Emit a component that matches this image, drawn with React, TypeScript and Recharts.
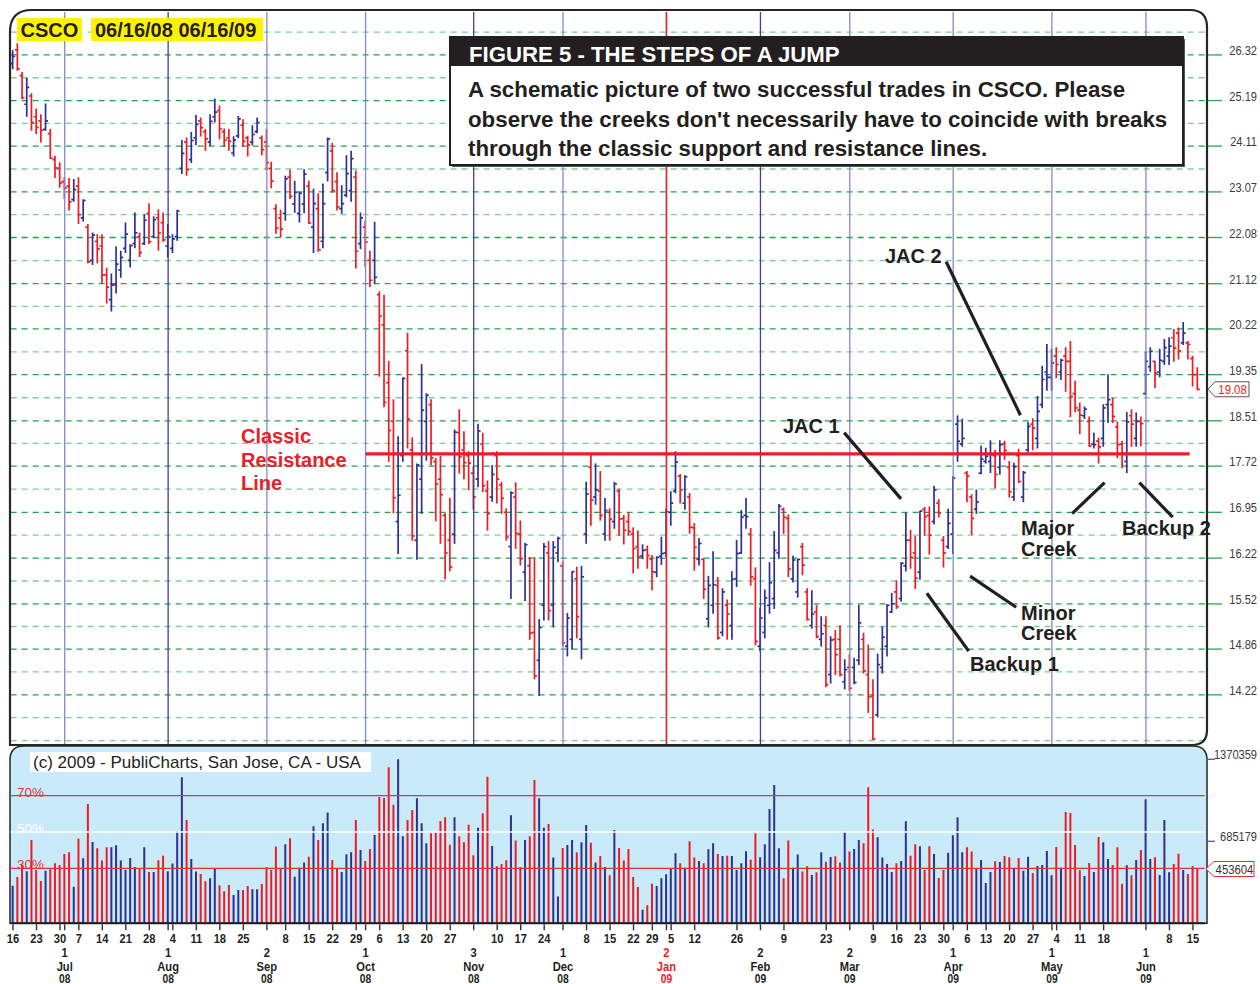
import React from "react";
import {
  ComposedChart,
  Bar,
  XAxis,
  YAxis,
  CartesianGrid,
  ReferenceLine,
  Cell,
} from "recharts";

// CSCO daily bars 06/16/08 - 06/16/09, one entry per trading day
const opens = [
  26.1, 26.45, 25.8, 25.1, 25.3, 24.8, 24.7, 24.5, 24.4, 23.8,
  23.6, 23.3, 23.2, 22.9, 23.2, 22.5, 22.3, 21.6, 22.0, 21.9,
  21.3, 20.8, 21.1, 21.4, 21.85, 21.6, 21.95, 22.1, 21.95, 22.6,
  22.1, 22.5, 22.4, 21.9, 21.85, 22.1, 23.6, 24.2, 23.8, 24.3,
  24.7, 24.45, 24.2, 24.8, 24.95, 24.45, 24.3, 23.95, 24.35, 24.6,
  24.3, 24.2, 24.45, 24.3, 24.2, 23.6, 22.7, 22.5, 22.6, 23.4,
  22.8, 22.6, 22.8, 23.2, 22.3, 22.7, 22.0, 23.5, 24.0, 23.3,
  22.7, 23.0, 23.1, 23.4, 21.95, 22.3, 21.6, 21.6, 20.9, 20.3,
  19.2, 18.5, 16.8, 17.9, 19.8, 18.0, 16.5, 17.5, 18.5, 18.8,
  17.8, 17.5, 16.9, 16.5, 16.6, 18.3, 18.0, 17.9, 17.6, 17.5,
  18.1, 17.3, 17.2, 17.9, 17.4, 16.95, 16.4, 17.2, 16.6, 16.0,
  16.1, 15.1, 14.7, 15.5, 16.3, 15.5, 16.3, 16.1, 14.9, 15.0,
  15.9, 15.0, 16.6, 17.7, 17.2, 17.3, 16.6, 16.95, 16.8, 17.3,
  16.85, 16.8, 16.6, 16.4, 16.25, 16.35, 16.2, 16.0, 16.25, 16.3,
  16.95, 17.3, 17.55, 17.1, 17.2, 16.7, 16.2, 16.2, 15.3, 15.5,
  15.8, 15.1, 15.5, 15.2, 15.9, 16.3, 16.9, 16.6, 15.9, 14.9,
  15.1, 15.5, 15.6, 16.3, 17.0, 16.85, 15.9, 15.7, 16.4, 15.7,
  15.2, 15.4, 15.0, 15.2, 14.5, 15.0, 15.0, 14.4, 14.6, 14.6,
  14.7, 15.0, 14.5, 14.2, 13.95, 14.6, 14.9, 15.4, 15.7, 15.6,
  16.1, 16.5, 16.3, 16.0, 17.0, 16.9, 16.8, 17.1, 16.5, 16.4,
  16.6, 18.45, 18.1, 17.6, 17.2, 17.0, 17.6, 17.8, 17.8, 17.9,
  17.7, 18.1, 17.7, 17.2, 17.9, 17.2, 18.0, 18.45, 18.2, 18.8,
  19.4, 19.3, 19.7, 19.4, 19.7, 19.6, 19.0, 18.7, 18.6, 18.5,
  18.1, 18.15, 18.2, 18.8, 18.8, 18.4, 18.1, 17.8, 18.6, 18.2,
  18.5, 19.0, 19.5, 19.6, 19.4, 19.6, 19.7, 20.05, 20.14, 19.95,
  19.95, 19.65, 19.35,
];

const highs = [
  26.43, 26.61, 25.88, 25.74, 25.36, 24.99, 24.85, 25.11, 24.5, 23.88,
  23.73, 23.39, 23.37, 23.35, 23.39, 22.9, 22.36, 22.18, 22.14, 22.14,
  21.44, 21.32, 21.88, 21.79, 22.39, 21.93, 22.61, 22.18, 22.57, 22.81,
  22.53, 22.68, 22.61, 22.36, 22.14, 22.67, 24.24, 24.3, 24.43, 24.83,
  24.77, 24.5, 24.85, 25.23, 25.06, 24.51, 24.5, 24.33, 24.81, 24.73,
  24.34, 24.59, 24.77, 24.35, 24.5, 23.74, 22.79, 22.67, 23.42, 23.56,
  23.31, 23.06, 23.57, 23.31, 23.13, 23.03, 23.25, 24.3, 24.18, 23.5,
  23.21, 23.89, 23.99, 23.54, 22.61, 22.43, 21.79, 22.41, 20.96, 20.89,
  19.6, 18.89, 18.23, 19.29, 20.14, 18.21, 17.76, 19.54, 19.0, 18.89,
  17.85, 17.89, 16.93, 17.18, 18.35, 18.71, 18.32, 17.97, 17.7, 18.45,
  18.29, 17.47, 17.73, 17.97, 17.45, 17.01, 17.29, 17.44, 16.81, 16.45,
  16.23, 16.23, 15.29, 16.45, 16.48, 16.48, 16.55, 16.16, 15.38, 16.01,
  16.08, 16.09, 17.45, 17.91, 17.76, 17.63, 17.18, 17.01, 17.45, 17.33,
  16.9, 16.94, 16.7, 16.65, 16.43, 16.41, 16.26, 16.24, 16.55, 17.01,
  17.29, 17.97, 17.58, 17.56, 17.26, 16.77, 16.53, 16.21, 15.94, 16.32,
  15.92, 15.75, 15.58, 16.01, 16.5, 16.98, 17.18, 16.69, 16.07, 15.46,
  15.73, 16.15, 16.64, 17.08, 17.02, 16.91, 16.25, 16.2, 16.45, 15.75,
  15.72, 15.5, 15.33, 15.33, 15.04, 15.13, 15.2, 14.71, 14.78, 14.73,
  15.5, 15.09, 14.92, 14.43, 14.79, 15.18, 15.51, 15.68, 15.87, 16.15,
  16.94, 16.66, 16.56, 16.97, 17.03, 17.04, 17.38, 17.16, 16.56, 17.0,
  17.54, 18.6, 18.54, 17.63, 17.24, 17.32, 18.07, 18.03, 18.16, 17.99,
  18.16, 18.15, 17.8, 17.77, 18.01, 17.63, 18.48, 18.55, 18.95, 19.51,
  19.92, 19.83, 19.86, 19.64, 19.86, 19.98, 19.23, 18.83, 18.76, 18.58,
  18.29, 18.21, 18.8, 19.35, 18.92, 18.49, 18.15, 18.66, 18.71, 18.65,
  18.58, 19.77, 19.86, 19.6, 19.83, 20.02, 20.05, 20.21, 20.24, 20.35,
  19.98, 19.7, 19.48,
];

const lows = [
  25.97, 25.93, 25.23, 24.81, 24.48, 24.4, 24.2, 24.48, 23.82, 23.39,
  23.17, 22.92, 22.67, 22.86, 22.38, 22.43, 21.55, 21.51, 21.55, 21.13,
  20.73, 20.57, 20.93, 21.25, 21.76, 21.46, 21.86, 21.68, 21.93, 21.95,
  22.07, 21.81, 22.0, 21.67, 21.76, 22.02, 23.48, 23.44, 23.73, 24.14,
  24.34, 24.01, 24.12, 24.67, 24.28, 24.1, 24.01, 23.88, 24.3, 24.1,
  23.88, 24.14, 24.42, 23.91, 23.57, 23.16, 22.17, 22.09, 22.45, 22.92,
  22.62, 22.41, 22.61, 22.38, 21.76, 21.79, 21.86, 23.31, 23.06, 22.67,
  22.6, 22.96, 22.86, 21.44, 21.84, 21.47, 21.06, 21.13, 19.32, 18.76,
  17.8, 16.94, 16.29, 17.8, 18.03, 16.5, 16.2, 16.93, 17.82, 17.74,
  16.81, 16.45, 15.9, 16.02, 16.45, 17.6, 17.5, 17.32, 17.0, 17.37,
  17.29, 16.66, 17.13, 17.1, 16.93, 16.5, 15.6, 16.37, 16.11, 15.57,
  15.0, 14.44, 14.21, 15.28, 15.28, 15.18, 16.16, 14.91, 14.76, 14.86,
  15.02, 14.72, 16.45, 16.74, 17.08, 16.82, 16.5, 16.5, 16.69, 16.58,
  16.44, 16.58, 15.99, 16.06, 16.21, 16.06, 15.73, 15.93, 16.12, 16.24,
  16.74, 17.27, 17.1, 17.0, 16.61, 16.03, 16.11, 15.6, 15.18, 15.38,
  15.0, 15.05, 15.0, 15.0, 15.78, 16.29, 16.69, 15.8, 14.92, 14.83,
  15.02, 15.38, 15.45, 16.21, 16.61, 15.93, 15.85, 15.62, 15.96, 15.28,
  15.16, 15.02, 14.9, 14.33, 14.38, 14.5, 14.48, 14.3, 14.28, 14.37,
  14.64, 14.52, 13.98, 13.62, 13.92, 14.52, 14.76, 15.39, 15.45, 15.56,
  16.02, 16.06, 15.75, 15.89, 16.58, 16.28, 16.76, 16.87, 16.08, 16.37,
  16.29, 17.8, 18.06, 17.12, 16.59, 16.93, 17.59, 17.77, 17.61, 17.35,
  17.58, 17.83, 17.2, 17.14, 17.44, 17.12, 17.97, 18.0, 18.03, 18.74,
  19.06, 19.06, 19.29, 19.26, 19.04, 18.58, 18.67, 18.28, 18.55, 18.06,
  18.03, 17.77, 18.06, 18.48, 18.48, 17.86, 17.69, 17.61, 18.06, 18.06,
  18.07, 18.98, 19.41, 19.11, 19.31, 19.54, 19.54, 19.6, 19.64, 19.92,
  19.64, 19.14, 19.07,
];

const closes = [
  26.28, 25.97, 25.26, 25.51, 24.66, 24.55, 24.48, 24.7, 23.83, 23.61,
  23.27, 23.16, 22.85, 23.12, 22.57, 22.88, 21.57, 22.13, 21.84, 21.3,
  21.05, 21.09, 21.52, 21.66, 22.15, 21.91, 22.18, 21.76, 22.45, 21.99,
  22.46, 22.18, 22.03, 22.1, 22.05, 22.65, 23.94, 23.57, 24.24, 24.62,
  24.54, 24.28, 24.69, 24.91, 24.51, 24.25, 24.22, 24.25, 24.75, 24.22,
  24.14, 24.38, 24.66, 24.03, 23.73, 23.31, 22.28, 22.26, 23.36, 22.97,
  23.06, 23.04, 23.47, 22.39, 22.81, 21.82, 22.81, 24.28, 23.1, 22.74,
  22.81, 23.48, 23.82, 21.79, 22.5, 21.98, 21.19, 21.25, 20.47, 18.84,
  18.34, 17.19, 17.23, 19.28, 18.54, 16.57, 17.74, 18.7, 18.97, 17.86,
  17.42, 17.24, 16.3, 16.08, 18.31, 17.88, 17.78, 17.77, 17.2, 18.33,
  17.39, 16.93, 17.58, 17.5, 17.18, 16.55, 17.27, 16.61, 16.21, 16.43,
  15.09, 14.48, 15.17, 16.4, 15.42, 16.39, 16.53, 14.95, 15.31, 16.01,
  15.33, 15.93, 17.25, 17.15, 17.32, 16.9, 16.98, 16.84, 17.42, 16.84,
  16.66, 16.64, 16.37, 16.24, 16.34, 16.26, 16.01, 16.23, 16.29, 16.96,
  17.1, 17.79, 17.32, 17.54, 16.71, 16.39, 16.45, 15.74, 15.8, 15.81,
  15.02, 15.7, 15.37, 15.89, 16.29, 16.87, 16.88, 15.93, 14.97, 15.31,
  15.61, 15.84, 16.34, 17.05, 16.87, 16.05, 16.19, 16.2, 16.11, 15.29,
  15.37, 15.04, 15.08, 14.36, 14.99, 14.78, 14.5, 14.57, 14.31, 14.39,
  15.24, 14.55, 14.19, 13.63, 14.64, 15.03, 15.5, 15.52, 15.48, 16.14,
  16.5, 16.23, 15.91, 16.97, 16.88, 16.58, 17.32, 16.94, 16.3, 16.77,
  17.52, 18.15, 18.2, 17.55, 16.85, 17.12, 17.84, 17.89, 17.92, 17.58,
  18.09, 17.99, 17.29, 17.71, 17.46, 17.61, 18.41, 18.38, 18.68, 19.26,
  19.3, 19.57, 19.54, 19.62, 19.6, 18.95, 18.74, 18.61, 18.72, 18.07,
  18.09, 18.05, 18.74, 18.89, 18.59, 18.09, 17.95, 18.49, 18.45, 18.5,
  18.46, 19.6, 19.79, 19.38, 19.62, 19.86, 19.89, 19.85, 19.8, 20.14,
  19.92, 19.35, 19.08,
];

const volumes = [
  314700, 387000, 487000, 434000, 696000, 446000, 354000, 440000, 451000, 501000,
  487000, 579000, 593000, 306000, 707000, 543000, 997000, 680000, 627000, 524000,
  635000, 635000, 652000, 524000, 446000, 546000, 468000, 460000, 635000, 429000,
  429000, 526000, 565000, 434000, 499000, 771000, 1220000, 863000, 538000, 432000,
  412000, 351000, 376000, 454000, 317000, 267000, 320000, 237000, 279000, 279000,
  312000, 284000, 284000, 329000, 468000, 446000, 641000, 460000, 660000, 710000,
  390000, 465000, 507000, 557000, 810000, 696000, 836000, 925000, 529000, 462000,
  429000, 577000, 593000, 863000, 613000, 521000, 621000, 738000, 1056000, 1047000,
  1303000, 991000, 1370359, 727000, 863000, 947000, 1044000, 836000, 668000, 752000,
  758000, 855000, 886000, 657000, 886000, 727000, 677000, 824000, 568000, 799000,
  919000, 1225000, 646000, 476000, 496000, 526000, 902000, 691000, 471000, 696000,
  727000, 1198000, 1044000, 799000, 830000, 549000, 223000, 629000, 654000, 696000,
  593000, 677000, 822000, 674000, 507000, 563000, 471000, 401000, 780000, 629000,
  524000, 621000, 387000, 304000, 114000, 150000, 331000, 312000, 376000, 409000,
  457000, 585000, 501000, 465000, 685000, 549000, 521000, 501000, 618000, 668000,
  579000, 563000, 565000, 563000, 446000, 501000, 602000, 532000, 752000, 551000,
  660000, 955000, 1156000, 627000, 376000, 691000, 465000, 574000, 432000, 476000,
  404000, 426000, 593000, 515000, 554000, 560000, 507000, 766000, 599000, 621000,
  696000, 668000, 1136000, 783000, 719000, 549000, 496000, 429000, 501000, 521000,
  852000, 565000, 660000, 643000, 446000, 643000, 579000, 379000, 446000, 590000,
  735000, 886000, 593000, 635000, 599000, 454000, 529000, 337000, 429000, 518000,
  512000, 563000, 551000, 457000, 546000, 440000, 557000, 421000, 479000, 487000,
  604000, 401000, 638000, 465000, 930000, 922000, 654000, 443000, 395000, 504000,
  429000, 721000, 677000, 538000, 487000, 635000, 331000, 485000, 401000, 529000,
  613000, 1036000, 538000, 551000, 404000, 863000, 426000, 496000, 582000, 446000,
  412000, 479000, 453604,
];

// u = up day (blue), d = down day (red)
const direction = [
  "uddudddudd", "dddudududd", "duuuuuudud", "udduuuuduu", "dduuddduud",
  "duudddddud", "uuududuudd", "uuududdudd", "dduudduuud", "dddduddddu",
  "dduddduddu", "dduuduuduu", "duudududud", "ddddudduuu", "uududduduu",
  "duduuuuddu", "uuuudduudd", "udududdudu", "uddduuuudu", "uddudduddu",
  "uuudduuuud", "udduduuduu", "uududdddud", "uduudddudu", "duuduuuddu",
  "ddd",
].join("");

const priceLevels = [
  26.32, 25.19, 24.11, 23.07, 22.08, 21.12, 20.22, 19.35, 18.51, 17.72,
  16.95, 16.22, 15.52, 14.86, 14.22,
];

const volumeLevels = [1370359, 685179];

// weekly labels: [bar index, label]
const weekTicks: [number, string][] = [
  [0, "16"], [5, "23"], [10, "30"], [14, "7"], [19, "14"], [24, "21"], [29, "28"],
  [34, "4"], [39, "11"], [44, "18"], [49, "25"], [58, "8"], [63, "15"], [68, "22"],
  [73, "29"], [78, "6"], [83, "13"], [88, "20"], [93, "27"], [103, "10"], [108, "17"],
  [113, "24"], [122, "8"], [127, "15"], [132, "22"], [136, "29"], [140, "5"],
  [145, "12"], [154, "26"], [164, "9"], [173, "23"], [183, "9"], [188, "16"],
  [193, "23"], [198, "30"], [203, "6"], [207, "13"], [212, "20"], [217, "27"],
  [222, "4"], [227, "11"], [232, "18"], [246, "8"], [251, "15"],
];

// month starts: [bar index, day, month, year]
const monthTicks: [number, string, string, string][] = [
  [11, "1", "Jul", "08"], [33, "1", "Aug", "08"], [54, "2", "Sep", "08"],
  [75, "1", "Oct", "08"], [98, "3", "Nov", "08"], [117, "1", "Dec", "08"],
  [139, "2", "Jan", "09"], [159, "2", "Feb", "09"], [178, "2", "Mar", "09"],
  [200, "1", "Apr", "09"], [221, "1", "May", "09"], [241, "1", "Jun", "09"],
];

const resistance = { from: 75, to: 250.3, price: 17.93 };

const pointers: { from: [number, number]; to: [number, number] }[] = [
  { from: [198.5, 21.57], to: [214.3, 18.61] }, // JAC 2
  { from: [176.8, 18.3], to: [188.9, 17.17] }, // JAC 1
  { from: [225.3, 16.93], to: [232.2, 17.44] }, // Major Creek
  { from: [239.6, 17.44], to: [246.7, 16.87] }, // Backup 2
  { from: [203.6, 15.94], to: [213.4, 15.47] }, // Minor Creek
  { from: [194.4, 15.68], to: [203.3, 14.83] }, // Backup 1
];

const volBands = [
  { label: "70%", value: 1067000, color: "#e2323c" },
  { label: "50%", value: 763000, color: "#ffffff" },
  { label: "30%", value: 459000, color: "#e2323c" },
];

const BLUE = "#2e3192";
const RED = "#ed1c24";
const INK = "#231f20";
const FONT = '"Liberation Sans", Arial, sans-serif';

const LEFT = 10.65;
const AXIS_W = 55.3;
const PLOT_RIGHT = 1260 - AXIS_W;
const X_DOMAIN: [number, number] = [-0.5, 253.5];
const PRICE_DOMAIN: [number, number] = [13.55, 27.43];
const VOL_DOMAIN: [number, number] = [0, 1481500];
const VOL_TOP = 740;
const VOL_PLOT_BOTTOM = 6 + 177.3;

const rows = closes.map((c, i) => ({
  i,
  range: [lows[i], highs[i]],
  open: opens[i],
  high: highs[i],
  low: lows[i],
  close: c,
  vol: volumes[i],
  up: direction[i] === "u",
}));

const last = priceLevels.length - 1;
const minorLevels = [
  priceLevels[0] * Math.sqrt(priceLevels[0] / priceLevels[1]),
  ...priceLevels.slice(1).map((p, k) => Math.sqrt(p * priceLevels[k])),
  priceLevels[last] * Math.sqrt(priceLevels[last] / priceLevels[last - 1]),
  (priceLevels[last] * priceLevels[last]) / priceLevels[last - 1],
];

const weekMap = new Map(weekTicks.map((t) => [t[0], t[1]]));
const monthMap = new Map(monthTicks.map((t) => [t[0], t]));
const timeTicks = [...weekTicks.map((t) => t[0]), ...monthTicks.map((t) => t[0])].sort((a, b) => a - b);
const darkMonths = ["Aug", "Nov", "Feb"];

// condensed-looking label: regular font squeezed horizontally
function Narrow(props: { x: number; y: number; anchor?: "start" | "middle" | "end"; sx?: number; children: React.ReactNode; [k: string]: any }) {
  const { x, y, anchor = "middle", sx = 0.84, children, ...rest } = props;
  return (
    <text transform={`translate(${x},${y}) scale(${sx},1)`} textAnchor={anchor} fontFamily={FONT} {...rest}>
      {children}
    </text>
  );
}

function OhlcShape(props: any) {
  const { x, y, width, height, payload } = props;
  if (!payload || x == null || y == null) return <g />;
  const top = Math.min(y, y + height);
  const bottom = Math.max(y, y + height);
  const lh = Math.log(payload.high);
  const ll = Math.log(payload.low);
  const at = (p: number) => (lh === ll ? top : top + ((lh - Math.log(p)) / (lh - ll)) * (bottom - top));
  const cx = x + width / 2;
  const yo = at(payload.open);
  const yc = at(payload.close);
  return (
    <g stroke={payload.up ? BLUE : RED} strokeWidth={1.7} fill="none">
      <line x1={cx} x2={cx} y1={top - 0.4} y2={bottom + 0.4} />
      <line x1={cx - 2.5} x2={cx} y1={yo} y2={yo} />
      <line x1={cx} x2={cx + 2.5} y1={yc} y2={yc} />
    </g>
  );
}

function PriceTick(props: any) {
  const { y, payload } = props;
  return (
    <g>
      <line x1={PLOT_RIGHT + 2} x2={1222} y1={y} y2={y} stroke="#2aa84f" strokeWidth={1.3} />
      <Narrow x={1257} y={y} anchor="end" sx={0.82} fontSize={13.5} fill="#3a3a3a">
        {payload.value.toFixed(2)}
      </Narrow>
    </g>
  );
}

function VolTick(props: any) {
  const { y, payload } = props;
  return (
    <g>
      <line x1={PLOT_RIGHT + 2} x2={1215} y1={y} y2={y} stroke="#5558a8" strokeWidth={1.3} />
      <Narrow x={1257} y={y} anchor="end" sx={0.82} fontSize={13.5} fill="#3a3a3a">
        {payload.value}
      </Narrow>
    </g>
  );
}

function TimeTick(props: any) {
  const { x, payload } = props;
  const v = payload.value;
  const wk = weekMap.get(v);
  const mo = monthMap.get(v);
  const b = VOL_PLOT_BOTTOM;
  const col = mo && mo[2] === "Jan" ? RED : INK;
  return (
    <g fontWeight="bold" fontSize={13}>
      <line x1={x} x2={x} y1={b + 1} y2={b + 7} stroke="#333" strokeWidth={1.4} />
      {wk && (
        <Narrow x={x} y={b + 20} sx={0.86} fill={INK}>
          {wk}
        </Narrow>
      )}
      {mo && (
        <>
          <Narrow x={x} y={b + 34} sx={0.86} fill={col}>{mo[1]}</Narrow>
          <Narrow x={x} y={b + 47.5} sx={0.86} fill={col}>{mo[2]}</Narrow>
          <Narrow x={x} y={b + 60} sx={0.86} fill={col} fontSize={12}>{mo[3]}</Narrow>
        </>
      )}
    </g>
  );
}

function PriceTag(props: any) {
  const vb = props.viewBox || {};
  const y = vb.y;
  const x0 = vb.x + vb.width + 3.3;
  if (y == null) return null;
  return (
    <g>
      <path
        d={`M${x0},${y} L${x0 + 7},${y - 7.5} L${x0 + 41},${y - 7.5} L${x0 + 41},${y + 7.5} L${x0 + 7},${y + 7.5} Z`}
        fill="#fff"
        stroke="#555"
        strokeWidth={1}
      />
      <Narrow x={x0 + 24.5} y={y + 5} sx={0.84} fill={RED} fontSize={13.5}>
        {closes[closes.length - 1].toFixed(2)}
      </Narrow>
    </g>
  );
}

function VolTag(props: any) {
  const vb = props.viewBox || {};
  const y = vb.y;
  const x0 = vb.x + vb.width + 1.3;
  if (y == null) return null;
  return (
    <g>
      <path
        d={`M${x0},${y} L${x0 + 8},${y - 7.5} L${x0 + 48},${y - 7.5} L${x0 + 48},${y + 7.5} L${x0 + 8},${y + 7.5} Z`}
        fill="#fff"
        stroke="#e2323c"
        strokeWidth={1}
      />
      <Narrow x={x0 + 28.5} y={y + 5} sx={0.84} fill="#333" fontSize={13.5}>
        {volumes[volumes.length - 1]}
      </Narrow>
    </g>
  );
}

function BandLabel(props: any) {
  const vb = props.viewBox || {};
  if (vb.y == null) return null;
  return (
    <text x={17} y={vb.y + 1} fontSize={13.5} fill={props.color} fontFamily={FONT}>
      {props.text}
    </text>
  );
}

const txt = { fontFamily: FONT, fontWeight: "bold" as const, fill: INK };

export default function App() {
  return (
    <div style={{ position: "absolute", left: 0, top: 0, width: 1260, height: 984, background: "#fff", fontFamily: FONT }}>
      <svg width={1260} height={984} style={{ position: "absolute", left: 0, top: 0 }}>
        <path
          d="M10,923.3 L10,760 Q10,746 24,746 L1193,746 Q1207,746 1207,760 L1207,923.3 Z"
          fill="#c8eaf9"
          stroke="#262626"
          strokeWidth={1.5}
        />
      </svg>

      <div style={{ position: "absolute", left: 0, top: 0 }}>
        <ComposedChart width={1260} height={760} data={rows} margin={{ top: 12, right: 0, bottom: 15, left: LEFT }}>
          <CartesianGrid horizontalValues={minorLevels} vertical={false} stroke="#79cf95" strokeDasharray="6 5" strokeWidth={1.3} />
          <CartesianGrid horizontalValues={priceLevels} vertical={false} stroke="#1fa34a" strokeDasharray="6 5" strokeWidth={1.3} />
          <XAxis type="number" dataKey="i" domain={X_DOMAIN} hide allowDataOverflow />
          <YAxis
            orientation="right"
            scale="log"
            domain={PRICE_DOMAIN}
            ticks={priceLevels}
            interval={0}
            allowDataOverflow
            width={AXIS_W}
            axisLine={false}
            tickLine={false}
            tick={<PriceTick />}
          />
          {monthTicks.map((m) => (
            <ReferenceLine
              key={m[0]}
              x={m[0]}
              stroke={m[2] === "Jan" ? RED : darkMonths.includes(m[2]) ? "#3d4199" : "#8388c9"}
              strokeWidth={m[2] === "Jan" ? 1.6 : 1.3}
            />
          ))}
          <Bar dataKey="range" barSize={4} shape={OhlcShape} isAnimationActive={false} />
          <ReferenceLine
            segment={[
              { x: resistance.from, y: resistance.price },
              { x: resistance.to, y: resistance.price },
            ]}
            stroke={RED}
            strokeWidth={3.2}
          />
          {pointers.map((p, k) => (
            <ReferenceLine
              key={k}
              segment={[
                { x: p.from[0], y: p.from[1] },
                { x: p.to[0], y: p.to[1] },
              ]}
              stroke={INK}
              strokeWidth={3.2}
            />
          ))}
          <ReferenceLine y={closes[closes.length - 1]} stroke="none" label={<PriceTag />} />
        </ComposedChart>
      </div>

      <div style={{ position: "absolute", left: 0, top: VOL_TOP }}>
        <ComposedChart width={1260} height={244} data={rows} margin={{ top: 6, right: 0, bottom: 0, left: LEFT }}>
          <XAxis
            type="number"
            dataKey="i"
            domain={X_DOMAIN}
            allowDataOverflow
            ticks={timeTicks}
            interval={0}
            height={244 - VOL_PLOT_BOTTOM}
            tickSize={0}
            tickLine={false}
            axisLine={{ stroke: "#1e1e1e", strokeWidth: 2 }}
            tick={<TimeTick />}
          />
          <YAxis
            orientation="right"
            domain={VOL_DOMAIN}
            ticks={volumeLevels}
            interval={0}
            allowDataOverflow
            width={AXIS_W}
            axisLine={false}
            tickLine={false}
            tick={<VolTick />}
          />
          <Bar dataKey="vol" barSize={2} isAnimationActive={false}>
            {rows.map((r) => (
              <Cell key={r.i} fill={r.up ? BLUE : RED} />
            ))}
          </Bar>
          {volBands.map((b) => (
            <ReferenceLine
              key={b.label}
              y={b.value}
              stroke={b.color}
              strokeWidth={1.4}
              label={<BandLabel text={b.label} color={b.color} />}
            />
          ))}
          <ReferenceLine y={volumes[volumes.length - 1]} stroke="none" label={<VolTag />} />
        </ComposedChart>
      </div>

      <svg width={1260} height={984} style={{ position: "absolute", left: 0, top: 0, pointerEvents: "none" }}>
        <path
          d="M10,745 L10,32 Q10,10 32,10 L1190,10 Q1207,10 1207,27 L1207,730 Q1207,745 1192,745 Z"
          fill="none"
          stroke="#262626"
          strokeWidth={2.2}
        />

        <rect x={17} y={18} width={65} height={23} fill="#fff200" />
        <text x={20.5} y={36.5} fontSize={20} {...txt}>CSCO</text>
        <rect x={91} y={18} width={172} height={23} fill="#fff200" />
        <text x={95} y={36.5} fontSize={20} {...txt}>06/16/08 06/16/09</text>

        <rect x={452} y={39} width={733} height={128} fill="#555" />
        <rect x={450} y={37} width={733} height={128} fill="#fff" stroke={INK} strokeWidth={2} />
        <rect x={450} y={37} width={733} height={29} fill={INK} />
        <text x={469} y={62} fontSize={22.2} fontFamily={FONT} fontWeight="bold" fill="#fff">
          FIGURE 5 - THE STEPS OF A JUMP
        </text>
        <text x={468} y={97} fontSize={22.3} {...txt}>A schematic picture of two successful trades in CSCO. Please</text>
        <text x={468} y={127} fontSize={22.3} {...txt}>observe the creeks don't necessarily have to coincide with breaks</text>
        <text x={468} y={156} fontSize={22.3} {...txt}>through the classic support and resistance lines.</text>

        <g fontSize={20} fontFamily={FONT} fontWeight="bold" fill="#e8202a">
          <text x={241} y={443}>Classic</text>
          <text x={241} y={467}>Resistance</text>
          <text x={241} y={490}>Line</text>
        </g>

        <g fontSize={20} {...txt}>
          <text x={885} y={263}>JAC 2</text>
          <text x={783} y={433}>JAC 1</text>
          <text x={1021} y={535}>Major</text>
          <text x={1021} y={555.5}>Creek</text>
          <text x={1122} y={535}>Backup 2</text>
          <text x={1021} y={620}>Minor</text>
          <text x={1021} y={640}>Creek</text>
          <text x={970} y={670.5}>Backup 1</text>
        </g>

        <rect x={30} y={752} width={341} height={20} fill="#fff" />
        <text x={33} y={768} fontSize={17} fontFamily={FONT} fill={INK}>
          (c) 2009 - PubliCharts, San Jose, CA - USA
        </text>
      </svg>
    </div>
  );
}
